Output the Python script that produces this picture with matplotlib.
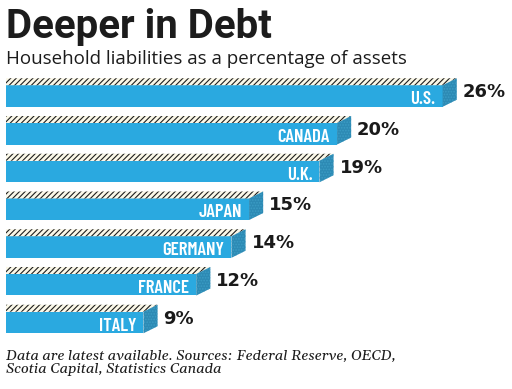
import matplotlib
matplotlib.use("Agg")
import matplotlib.pyplot as plt
from matplotlib.patches import Polygon

# data
countries = ["U.S.", "CANADA", "U.K.", "JAPAN", "GERMANY", "FRANCE", "ITALY"]
values = [26, 20, 19, 15, 14, 12, 9]
value_labels = ["26%", "20%", "19%", "15%", "14%", "12%", "9%"]

title = "Deeper in Debt"
subtitle = "Household liabilities as a percentage of assets"
footer = ("Data are latest available. Sources: Federal Reserve, OECD,\n"
          "Scotia Capital, Statistics Canada")

W, H = 512, 389
fig = plt.figure(figsize=(W / 100, H / 100), dpi=100)
fig.patch.set_facecolor("white")

# axes laid over the figure: ~17.6 px per percent, ~37.75 px per row
ax = fig.add_axes([6 / W, 0, 1 - 6 / W, 1])
ax.set_xlim(1.19, 29.94)
ax.set_ylim(7.762, -2.543)
ax.axis("off")

front = "#2aa9e0"
side = "#2d8ab4"
bar_h = 0.57
dx = 0.8      # depth offset in x (percent units)
dy = 0.185    # depth offset in y (row units)

idx = list(range(len(countries)))
ax.barh(idx, values, height=bar_h, left=0, color=front, edgecolor="none", zorder=2)

plt.rcParams["hatch.linewidth"] = 0.8
for i, v in zip(idx, values):
    top = i - bar_h / 2
    bot = i + bar_h / 2
    # top face (hatched)
    ax.add_patch(Polygon([(0, top), (v, top), (v + dx, top - dy), (0 + dx, top - dy)],
                         closed=True, facecolor="#fbf8e8", edgecolor="#1e1e1e",
                         hatch="//////", linewidth=0, zorder=3))
    # side face
    ax.add_patch(Polygon([(v, top), (v, bot), (v + dx, bot - dy), (v + dx, top - dy)],
                         closed=True, facecolor=side, edgecolor="#3b9cc4",
                         hatch="......", linewidth=0, zorder=3))

for i, v, name, lab in zip(idx, values, countries, value_labels):
    ax.text(v - 0.4, i + bar_h / 2 - 0.07, name, ha="right", va="baseline",
            color="white", fontsize=13.5, fontweight="semibold",
            family="Barlow Condensed", zorder=4)
    ax.text(v + dx + 0.34, i - 0.1, lab, ha="left", va="center",
            color="#1a1a1a", fontsize=13, fontweight="bold", family="DejaVu Sans")

fig.text(6 / W, 1 - 38 / H, title, ha="left", va="baseline", fontsize=29,
         fontweight="bold", family="Roboto", color="#1c1c1c")
fig.text(6 / W, 1 - 64.5 / H, subtitle, ha="left", va="baseline", fontsize=13.5,
         family="Open Sans", color="#1c1c1c")
fig.text(6 / W, 1 - 373 / H, footer, ha="left", va="baseline", fontsize=10.6,
         style="italic", family="Gelasio", color="#1c1c1c", linespacing=1.05)

fig.savefig("out.png", dpi=100, facecolor="white")
